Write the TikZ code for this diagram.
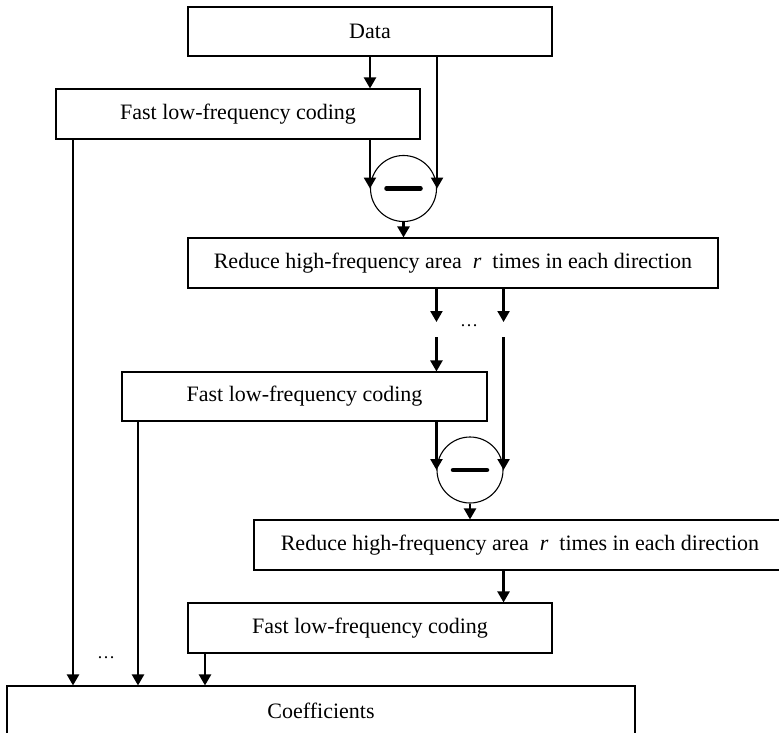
\documentclass[tikz,border=0pt]{standalone}
\usepackage{fontspec}
\setmainfont{Liberation Serif}
\usetikzlibrary{arrows.meta,calc}
\begin{document}
\begin{tikzpicture}[x=1pt,y=-1pt,
  every node/.style={font=\fontsize{22}{26}\selectfont},
  box/.style={draw,line width=1.1pt,rectangle,inner sep=0pt},
  subtract/.style={draw,line width=1.1pt,circle,minimum size=66pt,inner sep=0pt},
  arr/.style={line width=2.3pt,-{Triangle[length=11pt,width=12pt]}},
  minusbar/.style={line width=4.5pt,line cap=round}]
\useasboundingbox (0,0) rectangle (779,733);

% processing blocks
\node[box,minimum width=364pt,minimum height=49pt] (data)  at (370,31.5) {Data};
\node[box,minimum width=364pt,minimum height=50pt] (fast1) at (238,114)  {Fast low-frequency coding};
\node[subtract] (sub1) at (403.5,188.5) {};
\node[box,minimum width=530pt,minimum height=50pt] (red1)  at (453,263)  {Reduce high-frequency area\ \ \textit{r}\ \ times in each direction};
\node[box,minimum width=365pt,minimum height=49pt] (fast2) at (304.5,396.5) {Fast low-frequency coding};
\node[subtract] (sub2) at (470,470) {};
\node[box,minimum width=532pt,minimum height=50pt] (red2)  at (520,545)  {Reduce high-frequency area\ \ \textit{r}\ \ times in each direction};
\node[box,minimum width=364pt,minimum height=50pt] (fast3) at (370,628)  {Fast low-frequency coding};
\node[box,minimum width=628pt,minimum height=50pt] (coef)  at (321,711)  {Coefficients};

% minus signs inside the subtractors
\draw[minusbar] ([xshift=-17pt]sub1.center) -- ([xshift=17pt]sub1.center);
\draw[minusbar] ([xshift=-17pt]sub2.center) -- ([xshift=17pt]sub2.center);

% free ends around the elided stages, aligned with the second subtractor
\coordinate (e1) at (sub2.west |- 0,322);
\coordinate (e2) at (sub2.east |- 0,322);
\coordinate (s1) at (sub2.west |- 0,337);
\coordinate (s2) at (sub2.east |- 0,337);
\coordinate (c1) at (73,0);
\coordinate (c2) at (138,0);
\coordinate (c3) at (205,0);

% first stage
\draw[arr] (data.south) -- (data.south |- fast1.north);
\draw[arr] (sub1.east |- data.south) -- (sub1.east);
\draw[arr] (sub1.west |- fast1.south) -- (sub1.west);
\draw[arr] (sub1.south) -- (sub1.south |- red1.north);
\draw[arr] (e1 |- red1.south) -- (e1);
\draw[arr] (e2 |- red1.south) -- (e2);
\node[font=\fontsize{18}{20}\selectfont] (dots1) at (469,326) {\ldots};

% second stage
\draw[arr] (s1) -- (s1 |- fast2.north);
\draw[arr] (s2) -- (sub2.east);
\draw[arr] (sub2.west |- fast2.south) -- (sub2.west);
\draw[arr] (sub2.south) -- (sub2.south |- red2.north);
\draw[arr] (sub2.east |- red2.south) -- (sub2.east |- fast3.north);

% outputs to the coefficients
\draw[arr] (c1 |- fast1.south) -- (c1 |- coef.north);
\draw[arr] (c2 |- fast2.south) -- (c2 |- coef.north);
\draw[arr] (c3 |- fast3.south) -- (c3 |- coef.north);
\node[font=\fontsize{18}{20}\selectfont] (dots2) at (106,658) {\ldots};
\end{tikzpicture}
\end{document}
